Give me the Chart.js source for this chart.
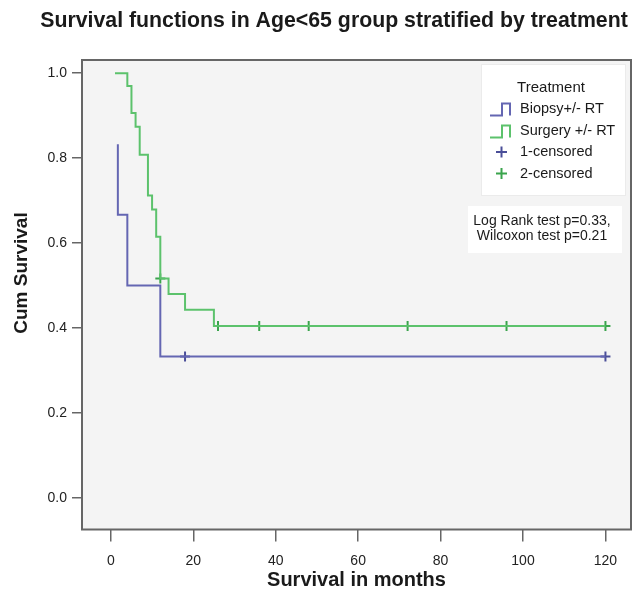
<!DOCTYPE html>
<html>
<head>
<meta charset="utf-8">
<script src="https://cdn.jsdelivr.net/npm/chart.js@4"></script>
<style>
  body { margin: 0; background: #fff; }
  #wrap { width: 638px; height: 589px; }
</style>
</head>
<body>
<div id="wrap"><canvas id="kmChart" width="638" height="589"></canvas></div>
<script>
// values (months / cumulative survival)
const biopsyTimes = [1.7, 1.7, 4, 12, 120];
const biopsySurv = [0.833, 0.667, 0.5, 0.333, 0.333];
const surgeryTimes = [1, 4, 5, 6, 7, 9, 10, 11, 12, 14, 18, 25, 120];
const surgerySurv = [1.0, 0.97, 0.906, 0.874, 0.808, 0.712, 0.679, 0.615, 0.517, 0.48, 0.443, 0.405, 0.405];
const biopsyCensTimes = [18, 120];
const biopsyCensSurv = [0.333, 0.333];
const surgeryCensTimes = [12, 26, 36, 48, 72, 96, 120];
const surgeryCensSurv = [0.517, 0.405, 0.405, 0.405, 0.405, 0.405, 0.405];

const xTicks = [0, 20, 40, 60, 80, 100, 120];
const yTicks = [0, 0.2, 0.4, 0.6, 0.8, 1.0];

const chartTitle = 'Survival functions in Age<65 group stratified by treatment';
const xTitle = 'Survival in months';
const yTitle = 'Cum Survival';
const legendTitle = 'Treatment';
const seriesNames = ['Biopsy+/- RT', 'Surgery +/- RT'];
const censorNames = ['1-censored', '2-censored'];
const statLines = ['Log Rank test p=0.33,', 'Wilcoxon test p=0.21'];

const blue = '#6466b2';
const green = '#5cc26c';
const blueMark = '#4a4e98';
const greenMark = '#3aa44c';
const frameColor = '#666';

const pts = (xs, ys) => xs.map((x, i) => ({ x: x, y: ys[i] }));

// frame, plot background, title, y title, legend and the test box
const kmDecor = {
    id: 'kmDecor',
    beforeDraw(chart) {
        const { ctx, chartArea: a } = chart;
        ctx.save();
        ctx.fillStyle = '#fff';
        ctx.fillRect(0, 0, chart.width, chart.height);
        ctx.fillStyle = '#f4f4f4';
        ctx.fillRect(a.left, a.top, a.right - a.left, a.bottom - a.top);
        ctx.restore();
    },
    afterDraw(chart) {
        const { ctx, chartArea: a } = chart;
        ctx.save();
        ctx.strokeStyle = frameColor;
        ctx.lineWidth = 2;
        ctx.strokeRect(a.left, a.top, a.right - a.left, a.bottom - a.top);

        ctx.fillStyle = '#1a1a1a';
        ctx.textAlign = 'center';
        ctx.textBaseline = 'middle';
        ctx.font = 'bold 21.3px "Liberation Sans", Arial, sans-serif';
        ctx.fillText(chartTitle, 334, 21);

        ctx.save();
        ctx.translate(22, 273);
        ctx.rotate(-Math.PI / 2);
        ctx.font = 'bold 19px "Liberation Sans", Arial, sans-serif';
        ctx.fillText(yTitle, 0, 0);
        ctx.restore();

        // legend box
        ctx.fillStyle = '#fff';
        ctx.fillRect(481, 64, 144, 131);
        ctx.strokeStyle = '#ebebeb';
        ctx.lineWidth = 1;
        ctx.strokeRect(481.5, 64.5, 144, 131);

        ctx.fillStyle = '#1a1a1a';
        ctx.font = '15px "Liberation Sans", Arial, sans-serif';
        ctx.fillText(legendTitle, 551, 88);

        const rows = [108.5, 130.5, 152, 173.5];
        const lineCols = [blue, green];
        const markCols = [blueMark, greenMark];
        ctx.textAlign = 'left';
        ctx.font = '14.5px "Liberation Sans", Arial, sans-serif';
        seriesNames.forEach((name, i) => {
            const y = rows[i];
            ctx.strokeStyle = lineCols[i];
            ctx.lineWidth = 2;
            ctx.beginPath();
            ctx.moveTo(490, y + 7);
            ctx.lineTo(502, y + 7);
            ctx.lineTo(502, y - 5);
            ctx.lineTo(510, y - 5);
            ctx.lineTo(510, y + 7);
            ctx.stroke();
            ctx.fillStyle = '#1a1a1a';
            ctx.fillText(name, 520, y);
        });
        censorNames.forEach((name, i) => {
            const y = rows[i + 2];
            ctx.strokeStyle = markCols[i];
            ctx.lineWidth = 2;
            ctx.beginPath();
            ctx.moveTo(496, y);
            ctx.lineTo(507, y);
            ctx.moveTo(501.5, y - 5.5);
            ctx.lineTo(501.5, y + 5.5);
            ctx.stroke();
            ctx.fillStyle = '#1a1a1a';
            ctx.fillText(name, 520, y);
        });

        // test results box
        ctx.fillStyle = '#fff';
        ctx.fillRect(468, 206, 154, 47);
        ctx.fillStyle = '#1a1a1a';
        ctx.textAlign = 'center';
        ctx.font = '14px "Liberation Sans", Arial, sans-serif';
        ctx.fillText(statLines[0], 542, 221.5);
        ctx.fillText(statLines[1], 542, 236.5);
        ctx.restore();
    }
};

const crossPoint = {
    showLine: false,
    pointStyle: 'cross',
    pointRadius: 5,
    pointBorderWidth: 2,
    pointHoverRadius: 5
};

new Chart(document.getElementById('kmChart'), {
    type: 'line',
    data: {
        datasets: [
            {
                label: seriesNames[0],
                data: pts(biopsyTimes, biopsySurv),
                stepped: true,
                borderColor: blue,
                borderWidth: 2,
                pointRadius: 0,
                fill: false
            },
            {
                label: seriesNames[1],
                data: pts(surgeryTimes, surgerySurv),
                stepped: true,
                borderColor: green,
                borderWidth: 2,
                pointRadius: 0,
                fill: false
            },
            {
                label: censorNames[0],
                data: pts(biopsyCensTimes, biopsyCensSurv),
                borderColor: blueMark,
                ...crossPoint
            },
            {
                label: censorNames[1],
                data: pts(surgeryCensTimes, surgeryCensSurv),
                borderColor: greenMark,
                ...crossPoint
            }
        ]
    },
    options: {
        responsive: false,
        animation: false,
        layout: { padding: { top: 60, right: 3, left: 0, bottom: 0 } },
        plugins: {
            legend: { display: false },
            title: { display: false },
            tooltip: { enabled: false }
        },
        scales: {
            x: {
                type: 'linear',
                min: -7,
                max: 126.2,
                afterBuildTicks: (scale) => { scale.ticks = xTicks.map(v => ({ value: v })); },
                afterFit: (scale) => { scale.height = 59.5; },
                border: { display: false },
                grid: {
                    drawOnChartArea: false,
                    drawTicks: true,
                    tickLength: 12,
                    color: frameColor,
                    lineWidth: 1.5
                },
                ticks: {
                    color: '#222',
                    padding: 11,
                    maxRotation: 0,
                    font: { family: '"Liberation Sans", Arial, sans-serif', size: 14 },
                    callback: (v) => String(v)
                },
                title: {
                    display: true,
                    text: xTitle,
                    color: '#1a1a1a',
                    font: { family: '"Liberation Sans", Arial, sans-serif', size: 20, weight: 'bold', lineHeight: 1 },
                    padding: { top: 0, bottom: -1 }
                }
            },
            y: {
                type: 'linear',
                min: -0.074,
                max: 1.031,
                afterBuildTicks: (scale) => { scale.ticks = yTicks.map(v => ({ value: v })); },
                afterFit: (scale) => { scale.width = 82; },
                border: { display: false },
                grid: {
                    drawOnChartArea: false,
                    drawTicks: true,
                    tickLength: 10,
                    color: frameColor,
                    lineWidth: 1.5
                },
                ticks: {
                    color: '#222',
                    padding: 5,
                    font: { family: '"Liberation Sans", Arial, sans-serif', size: 14 },
                    callback: (v) => v.toFixed(1)
                }
            }
        }
    },
    plugins: [kmDecor]
});
</script>
</body>
</html>
